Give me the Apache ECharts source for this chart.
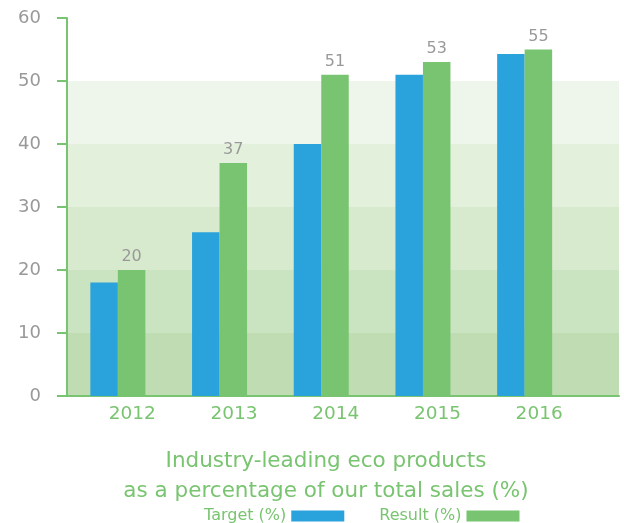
<!DOCTYPE html>
<html>
<head>
<meta charset="utf-8">
<script src="https://cdn.jsdelivr.net/npm/echarts@6/dist/echarts.min.js"></script>
<style>
  html, body { margin: 0; padding: 0; background: #fff; }
  #chart { width: 624px; height: 523px; }
</style>
</head>
<body>
<div id="chart"></div>
<script>
const years = ['2012', '2013', '2014', '2015', '2016'];
const targetPct = [18, 26, 40, 51, 54.3];
const resultPct = [20, 37, 51, 53, 55];
const yTicks = [0, 10, 20, 30, 40, 50, 60];

const GREEN = '#79c470';
const BLUE = '#2aa2dc';
const GRAY = '#999999';
const FONT = '"DejaVu Sans", sans-serif';

const chart = echarts.init(document.getElementById('chart'), null, { renderer: 'canvas' });

chart.setOption({
  animation: false,
  textStyle: { fontFamily: FONT },
  title: {
    text: 'Industry-leading eco products\nas a percentage of our total sales (%)',
    left: 321,
    top: 441,
    textAlign: 'center',
    textStyle: { color: GREEN, fontSize: 21.5, fontWeight: 'normal', lineHeight: 30, fontFamily: FONT }
  },
  legend: {
    data: ['Target (%)', 'Result (%)'],
    left: 204,
    top: 508,
    padding: 0,
    align: 'right',
    itemWidth: 53,
    itemHeight: 11,
    itemGap: 35,
    icon: 'rect',
    textStyle: { color: GREEN, fontSize: 16, fontFamily: FONT }
  },
  grid: [
    // background grid: banded value axis and the long baseline
    { left: 67, right: 5, top: 18, bottom: 127 },
    // bar grid
    { left: 67, width: 508.5, top: 18, bottom: 127 }
  ],
  xAxis: [
    {
      gridIndex: 0,
      type: 'value',
      min: 0,
      max: 1,
      axisLine: { show: true, lineStyle: { color: GREEN, width: 2 } },
      axisTick: { show: false },
      axisLabel: { show: false },
      splitLine: { show: false }
    },
    {
      gridIndex: 1,
      type: 'category',
      data: years,
      axisLine: { show: false },
      axisTick: { show: false },
      axisLabel: { color: GREEN, fontSize: 18.5, margin: 9, padding: [0, 0, 0, 29], fontFamily: FONT }
    }
  ],
  yAxis: [
    {
      gridIndex: 0,
      type: 'value',
      min: yTicks[0],
      max: yTicks[yTicks.length - 1],
      interval: 10,
      axisLine: { show: true, lineStyle: { color: GREEN, width: 2 } },
      axisTick: { show: true, length: 10, lineStyle: { color: GREEN, width: 2 } },
      axisLabel: { color: GRAY, fontSize: 18, margin: 26, fontFamily: FONT },
      splitLine: { show: false },
      splitArea: {
        show: true,
        areaStyle: { color: ['#bfdcb2', '#cae3c0', '#d7eace', '#e2f0dc', '#eef6ec', '#ffffff'] }
      }
    },
    {
      gridIndex: 1,
      type: 'value',
      min: yTicks[0],
      max: yTicks[yTicks.length - 1],
      interval: 10,
      show: false
    }
  ],
  series: [
    {
      name: 'Target (%)',
      type: 'bar',
      xAxisIndex: 1,
      yAxisIndex: 1,
      data: targetPct,
      barWidth: 27.5,
      barGap: '0%',
      itemStyle: { color: BLUE },
      z: 3
    },
    {
      name: 'Result (%)',
      type: 'bar',
      xAxisIndex: 1,
      yAxisIndex: 1,
      data: resultPct,
      barWidth: 27.5,
      barGap: '0%',
      itemStyle: { color: GREEN },
      label: { show: true, position: 'top', distance: 5, color: GRAY, fontSize: 16, fontFamily: FONT },
      z: 3
    }
  ]
});
</script>
</body>
</html>
